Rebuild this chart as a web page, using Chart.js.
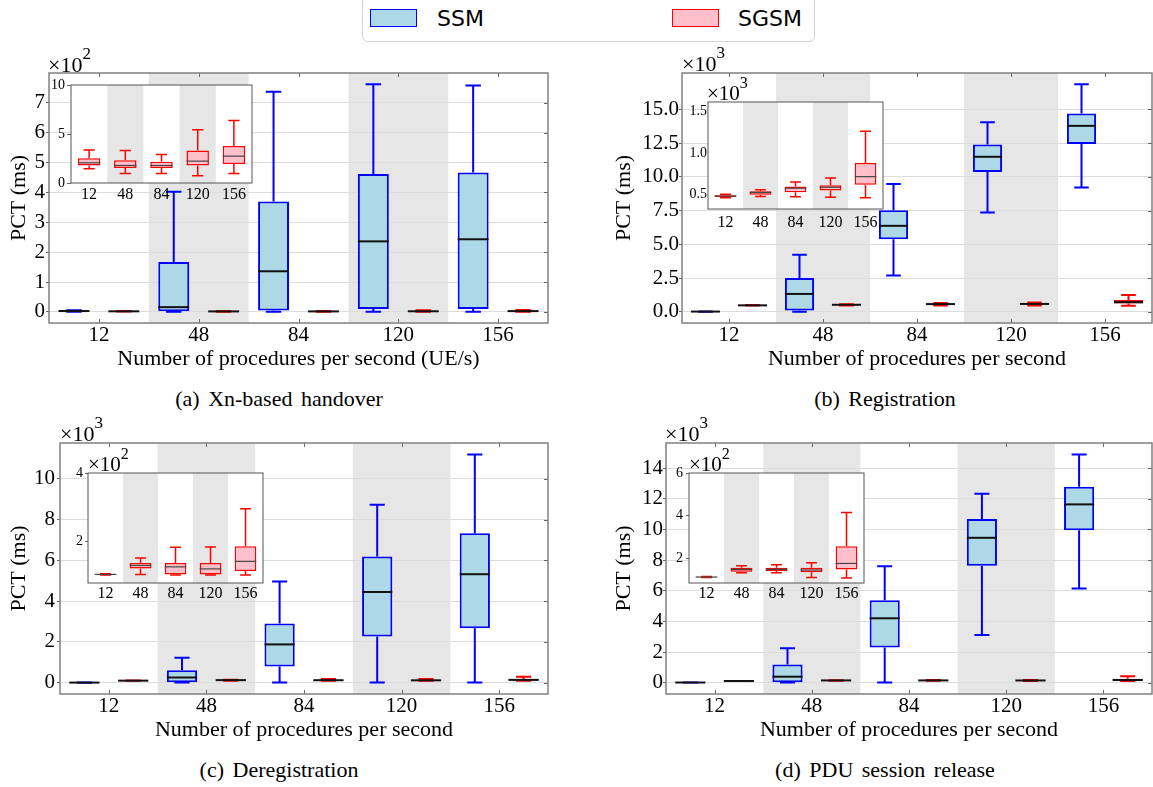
<!DOCTYPE html>
<html><head><meta charset="utf-8">
<script src="https://cdn.jsdelivr.net/npm/chart.js@4.4.1/dist/chart.umd.min.js"></script>
<style>
html,body{margin:0;padding:0;background:#fff}
body{position:relative;width:1153px;height:787px;overflow:hidden;font-family:"Liberation Serif","DejaVu Serif",serif;color:#000}
canvas{position:absolute}
.txt{position:absolute;white-space:nowrap;line-height:1;font-family:"Liberation Serif","DejaVu Serif",serif}
.mult{font-size:22px}
.mult sup{font-size:17px;line-height:0;position:relative;top:-4px}
.imult{font-size:21px}
.imult sup{font-size:16px;line-height:0;position:relative;top:-4px}
.cap{font-size:22px;word-spacing:3px;transform:translateX(-50%)}
#legend{position:absolute;left:362px;top:-5px;width:453px;height:47px;box-sizing:border-box;border:1px solid #d4d4d4;border-radius:6px;background:#fff;font-family:"DejaVu Sans",sans-serif;font-size:22px;line-height:22px}
#legend .patch{position:absolute;width:47px;height:18px;box-sizing:border-box;border:1.5px solid}
#legend .lab{position:absolute}
</style></head><body>
<script>
// ---------- data (ms): each box = [min whisker, Q1, median, Q3, max whisker] ----------
const categories = ['12', '48', '84', '120', '156'];

const handoverSSM  = [[1, 2, 3, 4, 6], [1, 2, 16, 167, 402], [1, 5, 136, 369, 736], [1, 10, 236, 461, 761], [1, 10, 243, 466, 757]];
const handoverSGSM = [[1.45, 1.79, 2.06, 2.53, 3.38], [0.98, 1.52, 1.79, 2.33, 3.31], [0.98, 1.52, 1.79, 2.16, 2.90], [0.74, 1.79, 2.23, 3.31, 5.44], [0.98, 1.93, 2.74, 3.78, 6.39]];

const registrationSSM  = [[20, 22, 25, 28, 32], [20, 100, 1330, 2510, 4230], [2700, 5380, 6370, 7520, 9470], [7350, 10350, 11480, 12390, 14040], [9200, 12420, 13770, 14680, 16840]];
const registrationSGSM = [[465, 475, 485, 495, 505], [480, 500, 528, 543, 560], [476, 530, 579, 600, 654], [472, 550, 590, 615, 700], [464, 620, 717, 880, 1260]];

const deregistrationSSM  = [[5, 8, 10, 12, 15], [10, 30, 260, 620, 1230], [10, 800, 1880, 2910, 4960], [10, 2270, 4450, 6190, 8720], [10, 2670, 5320, 7330, 11190]];
const deregistrationSGSM = [[103, 104, 105, 106, 107], [105, 122, 131, 138, 153], [103, 105, 127, 138, 184], [103, 105, 121, 138, 185], [103, 115, 143, 187, 296]];

const pduReleaseSSM  = [[5, 8, 10, 12, 15], [10, 20, 390, 1180, 2240], [10, 2290, 4200, 5380, 7600], [3110, 7620, 9450, 10670, 12320], [6140, 9950, 11630, 12780, 14890]];
const pduReleaseSGSM = [[109, 110, 111, 112, 113], [131, 136, 147, 155, 164], [131, 139, 147, 155, 169], [109, 133, 144, 155, 178], [106, 147, 175, 256, 414]];

// tick values (ms)
const handoverTicks       = [0, 100, 200, 300, 400, 500, 600, 700];
const registrationTicks   = [0, 2500, 5000, 7500, 10000, 12500, 15000];
const deregistrationTicks = [0, 2000, 4000, 6000, 8000, 10000];
const pduReleaseTicks     = [0, 2000, 4000, 6000, 8000, 10000, 12000, 14000];
const handoverInsetTicks       = [0, 5, 10];
const registrationInsetTicks   = [500, 1000, 1500];
const deregistrationInsetTicks = [200, 400];
const pduReleaseInsetTicks     = [200, 400, 600];
const shadedCategories = [1, 3];

// ---------- drawing helpers ----------
Chart.defaults.font.family = '"Liberation Serif", "DejaVu Serif", serif';
Chart.defaults.color = '#000';

const boxPlugin = {
  id: 'boxes',
  beforeDraw(chart, args, o) {
    const {ctx, chartArea: a, scales: {x}} = chart;
    ctx.save();
    if (o.white) { ctx.fillStyle = '#fff'; ctx.fillRect(a.left, a.top, a.width, a.height); }
    const half = a.width / chart.data.labels.length / 2;
    ctx.fillStyle = '#e6e6e6';
    shadedCategories.forEach(i => {
      const cx = x.getPixelForValue(i);
      ctx.fillRect(cx - half, a.top, 2 * half, a.height);
    });
    ctx.restore();
  },
  afterDatasetsDraw(chart, args, o) {
    const {ctx, scales: {y}} = chart;
    const p = v => y.getPixelForValue(v);
    chart.data.datasets.forEach((ds, di) => {
      chart.getDatasetMeta(di).data.forEach((bar, i) => {
        const s = ds.stats[i], w = bar.width, xc = bar.x;
        ctx.save();
        ctx.strokeStyle = ds.borderColor; ctx.lineWidth = o.whisker; ctx.lineCap = 'butt';
        ctx.beginPath();
        ctx.moveTo(xc, p(s[3])); ctx.lineTo(xc, p(s[4]));
        ctx.moveTo(xc, p(s[1])); ctx.lineTo(xc, p(s[0]));
        ctx.moveTo(xc - w / 4, p(s[4])); ctx.lineTo(xc + w / 4, p(s[4]));
        ctx.moveTo(xc - w / 4, p(s[0])); ctx.lineTo(xc + w / 4, p(s[0]));
        ctx.stroke();
        ctx.strokeStyle = o.median; ctx.lineWidth = o.medianWidth;
        ctx.beginPath(); ctx.moveTo(xc - w / 2, p(s[2])); ctx.lineTo(xc + w / 2, p(s[2])); ctx.stroke();
        ctx.restore();
      });
    });
  },
  afterDraw(chart, args, o) {
    const {ctx, chartArea: a, scales: {x, y}} = chart;
    ctx.save();
    if (o.innerTicks) {
      ctx.strokeStyle = '#666'; ctx.lineWidth = 1;
      ctx.beginPath();
      x.ticks.forEach((t, i) => {
        const px = Math.round(x.getPixelForTick(i)) + 0.5;
        ctx.moveTo(px, a.top); ctx.lineTo(px, a.top + 4);
        ctx.moveTo(px, a.bottom); ctx.lineTo(px, a.bottom - 4);
      });
      y.ticks.forEach(t => {
        const py = Math.round(y.getPixelForValue(t.value)) + 0.5;
        ctx.moveTo(a.right, py); ctx.lineTo(a.right - 4, py);
      });
      ctx.stroke();
    }
    ctx.strokeStyle = o.frame; ctx.lineWidth = o.frameWidth;
    ctx.strokeRect(a.left, a.top, a.width, a.height);
    ctx.restore();
  }
};

function boxDataset(label, stats, fill, line, width) {
  return {
    label, stats,
    data: stats.map(s => [s[1], s[3]]),
    backgroundColor: fill, borderColor: line, borderWidth: width,
    borderSkipped: false, barPercentage: 0.62, categoryPercentage: 1
  };
}

function makeChart(g, datasets) {
  const cv = document.createElement('canvas');
  const left = g.L - g.Wy, top = g.T - g.PT;
  const w = g.Wy + (g.R - g.L) + g.PR, h = g.PT + (g.B - g.T) + g.Hx;
  cv.width = w; cv.height = h;
  cv.style.left = left + 'px'; cv.style.top = top + 'px';
  cv.style.width = w + 'px'; cv.style.height = h + 'px';
  document.body.appendChild(cv);
  new Chart(cv, {
    type: 'bar',
    data: {labels: categories, datasets},
    options: {
      responsive: false, animation: false, devicePixelRatio: 1,
      layout: {padding: {left: 0, top: g.PT, right: g.PR, bottom: 0}},
      plugins: {
        legend: {display: false}, tooltip: {enabled: false},
        boxes: {white: g.inset, innerTicks: !g.inset, whisker: g.inset ? 1.5 : 2,
                median: g.inset ? '#444' : '#111', medianWidth: g.inset ? 1.2 : 2,
                frame: g.inset ? '#555' : '#808080', frameWidth: g.inset ? 1 : 1.5}
      },
      scales: {
        x: {
          type: 'category', offset: true,
          grid: {display: false, drawTicks: false}, border: {display: false},
          ticks: {font: {size: g.xFont}, padding: g.xPad, maxRotation: 0, minRotation: 0, autoSkip: false, color: '#000'},
          title: g.xTitle ? {display: true, text: g.xTitle, font: {size: 22}, padding: {top: 0, bottom: 0}, color: '#000'} : {display: false},
          afterFit: s => { s.height = g.Hx; s.paddingLeft = 0; s.paddingRight = 0; }
        },
        y: {
          type: 'linear', min: g.yMin, max: g.yMax,
          afterBuildTicks: s => { s.ticks = g.yTicks.map(v => ({value: v})); },
          ticks: {callback: g.fmt, font: {size: g.yFont}, padding: g.yPad, color: '#000'},
          grid: {drawOnChartArea: !g.inset, color: '#dcdcdc', lineWidth: 1,
                 drawTicks: g.tl > 0, tickLength: g.tl, tickColor: '#666'},
          border: {display: false},
          title: g.yTitle ? {display: true, text: g.yTitle, font: {size: 22}, padding: {top: g.yTitlePad, bottom: 0}, color: '#000'} : {display: false},
          afterFit: s => { s.width = g.Wy; s.paddingTop = 0; s.paddingBottom = 0; }
        }
      }
    },
    plugins: [boxPlugin]
  });
}

const SSMfill = '#add8e6', SSMline = '#0000ff', SGSMfill = '#ffc0cb', SGSMline = '#ff0000';
function mainSets(ssm, sgsm) {
  return [boxDataset('SSM', ssm, SSMfill, SSMline, 2), boxDataset('SGSM', sgsm, SGSMfill, SGSMline, 2)];
}
function insetSets(sgsm) {
  return [boxDataset('SGSM', sgsm, SGSMfill, SGSMline, 1.5)];
}
const mainBase = {inset: false, PT: 3, PR: 1, Hx: 49, xFont: 21, xPad: 0, yFont: 21, tl: 3, yTitle: 'PCT (ms)'};
const insetBase = {inset: true, PT: 9, PR: 2, Wy: 30, xFont: 16, yFont: 14};

// (a) Xn-based handover
makeChart({...mainBase, L: 49, T: 73, R: 548, B: 323, Wy: 49, yPad: 1, yTitlePad: 6,
  yMin: -37, yMax: 799, yTicks: handoverTicks, fmt: v => String(v / 100),
  xTitle: 'Number of procedures per second (UE/s)'}, mainSets(handoverSSM, handoverSGSM));
// (b) Registration
makeChart({...mainBase, L: 682, T: 73, R: 1152, B: 323, Wy: 72, yPad: 0, yTitlePad: 1,
  yMin: -821, yMax: 17681, yTicks: registrationTicks, fmt: v => (v / 1000).toFixed(1),
  xTitle: 'Number of procedures per second'}, mainSets(registrationSSM, registrationSGSM));
// (c) Deregistration
makeChart({...mainBase, L: 60, T: 443, R: 548, B: 694, Wy: 60, yPad: 2, yTitlePad: 6,
  yMin: -549, yMax: 11749, yTicks: deregistrationTicks, fmt: v => String(v / 1000),
  xTitle: 'Number of procedures per second'}, mainSets(deregistrationSSM, deregistrationSGSM));
// (d) PDU session release
makeChart({...mainBase, L: 666, T: 443, R: 1152, B: 694, Wy: 56, yPad: 0, yTitlePad: 1,
  yMin: -739, yMax: 15634, yTicks: pduReleaseTicks, fmt: v => String(v / 1000),
  xTitle: 'Number of procedures per second'}, mainSets(pduReleaseSSM, pduReleaseSGSM));

// insets (SGSM only)
makeChart({...insetBase, L: 71, T: 85, R: 252, B: 183, Hx: 24, xPad: 2, yPad: 2, tl: 4,
  yMin: 0, yMax: 10, yTicks: handoverInsetTicks, fmt: v => String(v)}, insetSets(handoverSGSM));
makeChart({...insetBase, L: 708, T: 102, R: 883, B: 209, Hx: 26, xPad: 4, yPad: 1, tl: 0,
  yMin: 330, yMax: 1610, yTicks: registrationInsetTicks, fmt: v => (v / 1000).toFixed(1)}, insetSets(registrationSGSM));
makeChart({...insetBase, L: 88, T: 473, R: 263, B: 583, Hx: 24, xPad: 1, yPad: 2, tl: 3,
  yMin: 80, yMax: 400, yTicks: deregistrationInsetTicks, fmt: v => String(v / 100)}, insetSets(deregistrationSGSM));
makeChart({...insetBase, L: 689, T: 473, R: 864, B: 583, Hx: 24, xPad: 1, yPad: 3, tl: 3,
  yMin: 83, yMax: 600, yTicks: pduReleaseInsetTicks, fmt: v => String(v / 100)}, insetSets(pduReleaseSGSM));

// ---------- texts ----------
function addText(cls, html, left, top) {
  const d = document.createElement('div');
  d.className = 'txt ' + cls; d.innerHTML = html;
  d.style.left = left + 'px'; d.style.top = top + 'px';
  document.body.appendChild(d);
}
addText('mult', '×10<sup>2</sup>', 48, 53.5);
addText('mult', '×10<sup>3</sup>', 682, 52.5);
addText('mult', '×10<sup>3</sup>', 60, 422.5);
addText('mult', '×10<sup>3</sup>', 665, 422.5);
addText('imult', '×10<sup>3</sup>', 707, 82.5);
addText('imult', '×10<sup>2</sup>', 88, 453.5);
addText('imult', '×10<sup>2</sup>', 689, 453.5);
addText('cap', '(a) Xn-based handover', 279, 387.6);
addText('cap', '(b) Registration', 885, 387.6);
addText('cap', '(c) Deregistration', 279, 758.6);
addText('cap', '(d) PDU session release', 885, 758.6);

// legend
const lg = document.createElement('div');
lg.id = 'legend';
lg.innerHTML =
  '<div class="patch" style="left:7px;top:13px;background:' + SSMfill + ';border-color:' + SSMline + '"></div>' +
  '<div class="lab" style="left:74px;top:12px">SSM</div>' +
  '<div class="patch" style="left:309px;top:13px;background:' + SGSMfill + ';border-color:' + SGSMline + '"></div>' +
  '<div class="lab" style="left:375px;top:12px">SGSM</div>';
document.body.appendChild(lg);
</script>
</body></html>
